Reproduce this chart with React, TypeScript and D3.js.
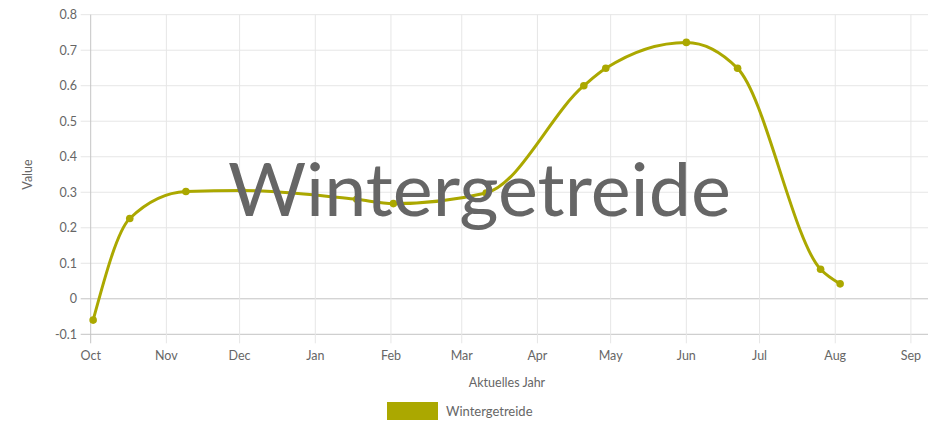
import React from "react";
import * as d3 from "d3";

const pointDates: string[] = [
  "2023-10-02", "2023-10-17", "2023-11-09", "2023-12-02", "2024-01-18",
  "2024-02-02", "2024-03-11", "2024-04-20", "2024-04-29", "2024-06-01",
  "2024-06-22", "2024-07-26", "2024-08-03",
];
const pointValues: number[] = [
  -0.06, 0.226, 0.302, 0.305, 0.28, 0.268, 0.298, 0.6, 0.649, 0.722, 0.649, 0.083, 0.042,
];
const yTicks: number[] = [-0.1, 0, 0.1, 0.2, 0.3, 0.4, 0.5, 0.6, 0.7, 0.8];
const monthTickDates: string[] = [
  "2023-10-01", "2023-11-01", "2023-12-01", "2024-01-01", "2024-02-01", "2024-03-01",
  "2024-04-01", "2024-05-01", "2024-06-01", "2024-07-01", "2024-08-01", "2024-09-01",
];
const monthLabels: string[] = ["Oct", "Nov", "Dec", "Jan", "Feb", "Mar", "Apr", "May", "Jun", "Jul", "Aug", "Sep"];
const seriesName = "Wintergetreide";
const titleText = "Wintergetreide";
const xAxisTitle = "Aktuelles Jahr";
const yAxisTitle = "Value";

const parse = (s: string) => new Date(s + "T00:00:00");

export default function App() {
  const W = 934, H = 422;
  const left = 90.7, right = 928, top = 14.7, bottom = 334.3;
  const x = d3.scaleTime().domain([parse("2023-10-01"), parse("2024-09-08")]).range([left, right]);
  const y = d3.scaleLinear().domain([-0.1, 0.8]).range([bottom, top]);
  const color = "#aba800";
  const font = "Lato, 'Open Sans', sans-serif";
  const data = pointDates.map((d, i) => ({ d: parse(d), v: pointValues[i] }));
  const line = d3.line<{ d: Date; v: number }>().x(p => x(p.d)).y(p => y(p.v)).curve(d3.curveMonotoneX);

  return (
    <svg width={W} height={H} style={{ position: "absolute", left: 0, top: 0 }} fontFamily={font}>
      {yTicks.map((t, i) => (
        <g key={"y" + i}>
          <line x1={left - 10} x2={right} y1={y(t)} y2={y(t)}
            stroke={t === 0 || t === -0.1 ? "#c4c4c4" : "#e6e6e6"} strokeWidth={1} />
          <text x={77} y={y(t)} dy="0.35em" textAnchor="end" fontSize={12.5} fill="#666">{t === 0 ? "0" : String(t)}</text>
        </g>
      ))}
      {monthTickDates.map((m, i) => (
        <g key={"x" + i}>
          <line x1={x(parse(m))} x2={x(parse(m))} y1={top} y2={bottom + 9}
            stroke={i === 0 ? "#c4c4c4" : "#e6e6e6"} strokeWidth={1} />
          <text x={x(parse(m))} y={356} dy="0.35em" textAnchor="middle" fontSize={12.5} fill="#666">{monthLabels[i]}</text>
        </g>
      ))}
      <text transform={`translate(28,${(top + bottom) / 2}) rotate(-90)`} textAnchor="middle" fontSize={12.5} fill="#666" dy="0.35em">{yAxisTitle}</text>
      <text x={507} y={383} dy="0.35em" textAnchor="middle" fontSize={12.5} fill="#666">{xAxisTitle}</text>

      <path d={line(data) || ""} fill="none" stroke={color} strokeWidth={3} />
      {data.map((p, i) => (
        <circle key={"p" + i} cx={x(p.d)} cy={y(p.v)} r={3.8} fill={color} />
      ))}

      <text x={228} y={216} fontSize={74} fill="#666" textLength={503} lengthAdjust="spacingAndGlyphs">{titleText}</text>

      <rect x={387} y={402} width={51} height={18} fill={color} />
      <text x={446} y={411} dy="0.35em" fontSize={13} fill="#666">{seriesName}</text>
    </svg>
  );
}
